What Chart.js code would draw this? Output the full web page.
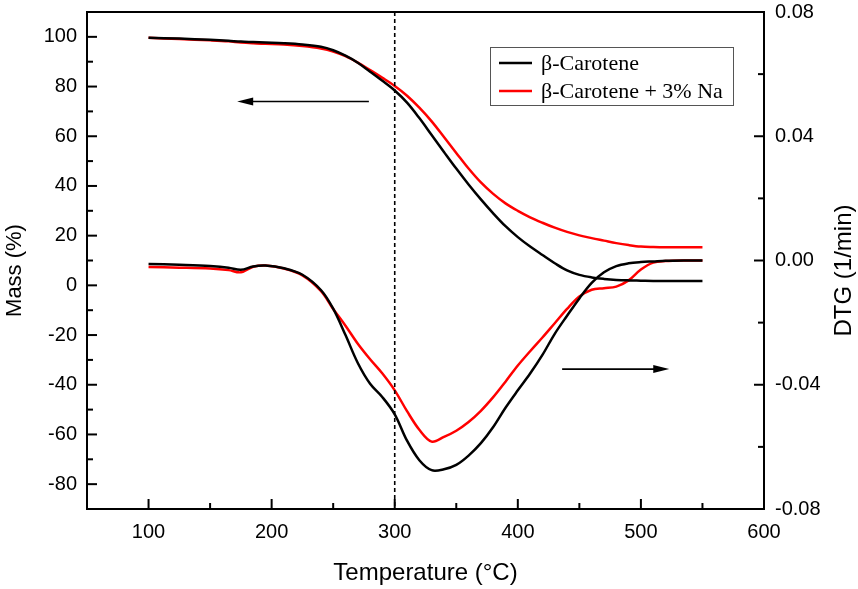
<!DOCTYPE html>
<html>
<head>
<meta charset="utf-8">
<script src="https://cdn.jsdelivr.net/npm/chart.js@4.4.0/dist/chart.umd.min.js"></script>
<style>
  html, body { margin: 0; padding: 0; background: #fff; }
  canvas { display: block; }
</style>
</head>
<body>
<canvas id="tgChart" width="858" height="589"></canvas>
<script>
// Temperature points (°C) shared by all curves
const temps = [100, 125, 150, 165, 175, 185, 195, 210, 225, 240, 250, 260, 270, 280, 290,
  300, 310, 320, 330, 340, 350, 360, 370, 380, 390, 400, 410, 420, 430, 440,
  450, 460, 470, 480, 490, 500, 510, 520, 535, 550];

// TG curves, mass (%)
const massCarotene = [99.6, 99.3, 98.8, 98.4, 98.1, 97.9, 97.7, 97.4, 96.9, 96.0, 94.6, 92.4, 89.6, 86.0, 82.3,
  78.4, 73.5, 67.3, 60.5, 53.7, 47.0, 40.6, 34.6, 29.0, 23.8, 19.4, 15.6, 12.2, 8.9, 6.0,
  4.2, 3.2, 2.6, 2.2, 2.0, 1.9, 1.8, 1.8, 1.8, 1.8];
const massCaroteneNa = [99.6, 99.1, 98.6, 98.2, 97.7, 97.4, 97.2, 96.9, 96.3, 95.3, 94.1, 92.2, 89.6, 86.6, 83.5,
  80.2, 76.3, 71.5, 66.0, 59.7, 53.3, 47.0, 41.4, 36.8, 33.0, 30.0, 27.4, 25.2, 23.2, 21.5,
  20.1, 19.0, 18.0, 17.0, 16.2, 15.6, 15.4, 15.3, 15.3, 15.3];

// DTG curves (1/min)
const dtgCarotene = [-0.0011, -0.0014, -0.0018, -0.0023, -0.0030, -0.0019, -0.0016, -0.0025, -0.0046, -0.0095,
  -0.0155, -0.0240, -0.0330, -0.0397, -0.0440, -0.0495, -0.0580, -0.0643, -0.0675, -0.0672,
  -0.0658, -0.0628, -0.0588, -0.0536, -0.0474, -0.0418, -0.0364, -0.0304, -0.0236, -0.0178,
  -0.0122, -0.0072, -0.0038, -0.0018, -0.0009, -0.0005, -0.0003, -0.0001, 0.0000, 0.0000];
const dtgCaroteneNa = [-0.0021, -0.0023, -0.0026, -0.0031, -0.0038, -0.0020, -0.0016, -0.0026, -0.0048, -0.0098,
  -0.0156, -0.0210, -0.0268, -0.0318, -0.0364, -0.0418, -0.0485, -0.0545, -0.0583, -0.0568,
  -0.0548, -0.0520, -0.0484, -0.0440, -0.0390, -0.0338, -0.0292, -0.0248, -0.0202, -0.0156,
  -0.0116, -0.0094, -0.0089, -0.0084, -0.0064, -0.0029, -0.0007, -0.0002, 0.0000, 0.0000];

// Axis ticks
const xTicks = [100, 200, 300, 400, 500, 600];
const xMinor = [150, 250, 350, 450, 550];
const massTicks = [-80, -60, -40, -20, 0, 20, 40, 60, 80, 100];
const massMinor = [-70, -50, -30, -10, 10, 30, 50, 70, 90];
const dtgTicks = [-0.08, -0.04, 0, 0.04, 0.08];
const dtgMinor = [-0.06, -0.02, 0.02, 0.06];

const seriesNames = ['\u03b2-Carotene', '\u03b2-Carotene + 3% Na'];
const seriesColors = ['#000000', '#ff0000'];

const toPoints = (vals) => temps.map((t, i) => ({ x: t, y: vals[i] }));

const SANS = "'Liberation Sans', Arial, sans-serif";
const SERIF = "'Liberation Serif', 'Times New Roman', serif";

// frame, inward ticks, dashed marker, arrows, side titles and boxed legend
const decorPlugin = {
    id: 'decor',
    afterDraw(chart) {
        const { ctx, chartArea: a, scales } = chart;
        const sx = scales.x, sy = scales.y, sy2 = scales.y2;
        ctx.save();

        // dashed line at 300 °C
        const xd = sx.getPixelForValue(300);
        ctx.strokeStyle = '#000';
        ctx.lineWidth = 1.6;
        ctx.setLineDash([4, 3]);
        ctx.beginPath();
        ctx.moveTo(xd, a.top);
        ctx.lineTo(xd, a.bottom);
        ctx.stroke();
        ctx.setLineDash([]);

        // frame
        ctx.lineWidth = 2;
        ctx.strokeRect(a.left, a.top, a.right - a.left, a.bottom - a.top);

        // ticks
        const tick = (x1, y1, x2, y2) => {
            ctx.beginPath();
            ctx.moveTo(x1, y1);
            ctx.lineTo(x2, y2);
            ctx.stroke();
        };
        xTicks.forEach(v => { const p = sx.getPixelForValue(v); tick(p, a.bottom, p, a.bottom - 10); });
        xMinor.forEach(v => { const p = sx.getPixelForValue(v); tick(p, a.bottom, p, a.bottom - 6); });
        massTicks.forEach(v => { const p = sy.getPixelForValue(v); tick(a.left, p, a.left + 10, p); });
        massMinor.forEach(v => { const p = sy.getPixelForValue(v); tick(a.left, p, a.left + 6, p); });
        dtgTicks.forEach(v => { const p = sy2.getPixelForValue(v); tick(a.right, p, a.right - 10, p); });
        dtgMinor.forEach(v => { const p = sy2.getPixelForValue(v); tick(a.right, p, a.right - 6, p); });

        // arrows pointing to the axis each curve group belongs to
        const arrow = (t1, m1, t2, m2) => {
            const x1 = sx.getPixelForValue(t1), y1 = sy.getPixelForValue(m1);
            const x2 = sx.getPixelForValue(t2), y2 = sy.getPixelForValue(m2);
            const dir = Math.sign(x2 - x1);
            ctx.lineWidth = 1.6;
            tick(x1, y1, x2 - dir * 12, y2);
            ctx.beginPath();
            ctx.moveTo(x2, y2);
            ctx.lineTo(x2 - dir * 16, y2 - 4);
            ctx.lineTo(x2 - dir * 16, y2 + 4);
            ctx.closePath();
            ctx.fillStyle = '#000';
            ctx.fill();
        };
        arrow(279, 74, 172, 74);
        arrow(436, -33.7, 523, -33.7);

        // vertical axis titles, both reading bottom to top
        const sideTitle = (text, x, size) => {
            ctx.save();
            ctx.translate(x, (a.top + a.bottom) / 2 + 10);
            ctx.rotate(-Math.PI / 2);
            ctx.font = size + 'px ' + SANS;
            ctx.fillStyle = '#000';
            ctx.textAlign = 'center';
            ctx.textBaseline = 'middle';
            ctx.fillText(text, 0, 0);
            ctx.restore();
        };
        sideTitle('Mass (%)', 15, 22);
        sideTitle('DTG (1/min)', 844, 24);

        // legend box
        const bx = a.left + 403, by = a.top + 35, bw = 243, bh = 58;
        ctx.lineWidth = 1;
        ctx.strokeStyle = '#555';
        ctx.strokeRect(bx + 0.5, by + 0.5, bw, bh);
        ctx.font = '22px ' + SERIF;
        ctx.textBaseline = 'middle';
        ctx.textAlign = 'left';
        seriesNames.forEach((name, i) => {
            const ly = by + 16 + i * 28;
            ctx.strokeStyle = seriesColors[i];
            ctx.lineWidth = 2.5;
            tick(bx + 9, ly, bx + 42, ly);
            ctx.fillStyle = '#000';
            ctx.fillText(name, bx + 51, ly + 1);
        });

        ctx.restore();
    }
};

const lineSet = (label, vals, color, axis) => ({
    label: label,
    data: toPoints(vals),
    yAxisID: axis,
    borderColor: color,
    backgroundColor: color,
    borderWidth: 2.5,
    pointRadius: 0,
    fill: false,
    tension: 0.35
});

const tickFont = { family: SANS, size: 20 };

// vertical axes: fixed width, no extra label padding above/below the plot
const fitVertical = (width) => (s) => {
    s.width = width;
    s.paddingTop = 0;
    s.paddingBottom = 0;
};

new Chart(document.getElementById('tgChart'), {
    type: 'line',
    data: {
        datasets: [
            lineSet(seriesNames[0], massCarotene, seriesColors[0], 'y'),
            lineSet(seriesNames[1], massCaroteneNa, seriesColors[1], 'y'),
            lineSet(seriesNames[0] + ' DTG', dtgCarotene, seriesColors[0], 'y2'),
            lineSet(seriesNames[1] + ' DTG', dtgCaroteneNa, seriesColors[1], 'y2')
        ]
    },
    options: {
        responsive: false,
        animation: false,
        layout: { padding: { top: 12, left: 0, right: 0, bottom: 0 } },
        plugins: {
            legend: { display: false },
            tooltip: { enabled: false }
        },
        scales: {
            x: {
                type: 'linear',
                min: 50,
                max: 600,
                grid: { display: false, drawTicks: false },
                border: { display: false },
                afterBuildTicks: (s) => { s.ticks = xTicks.map(v => ({ value: v })); },
                afterFit: (s) => { s.height = 80; s.paddingLeft = 0; s.paddingRight = 0; },
                ticks: {
                    autoSkip: false,
                    maxRotation: 0,
                    padding: 11,
                    color: '#000',
                    font: tickFont,
                    callback: (v) => String(v)
                },
                title: {
                    display: true,
                    text: 'Temperature (\u00b0C)',
                    color: '#000',
                    font: { family: SANS, size: 24 },
                    padding: { top: 0, bottom: 1 }
                }
            },
            y: {
                position: 'left',
                min: -90,
                max: 110,
                grid: { display: false, drawTicks: false },
                border: { display: false },
                afterBuildTicks: (s) => { s.ticks = massTicks.map(v => ({ value: v })); },
                afterFit: fitVertical(87),
                ticks: {
                    autoSkip: false,
                    padding: 10,
                    color: '#000',
                    font: tickFont,
                    callback: (v) => String(v)
                }
            },
            y2: {
                position: 'right',
                min: -0.08,
                max: 0.08,
                grid: { display: false, drawTicks: false },
                border: { display: false },
                afterBuildTicks: (s) => { s.ticks = dtgTicks.map(v => ({ value: v })); },
                afterFit: fitVertical(94),
                ticks: {
                    autoSkip: false,
                    padding: 11,
                    color: '#000',
                    font: tickFont,
                    callback: (v) => v.toFixed(2)
                }
            }
        }
    },
    plugins: [decorPlugin]
});
</script>
</body>
</html>
